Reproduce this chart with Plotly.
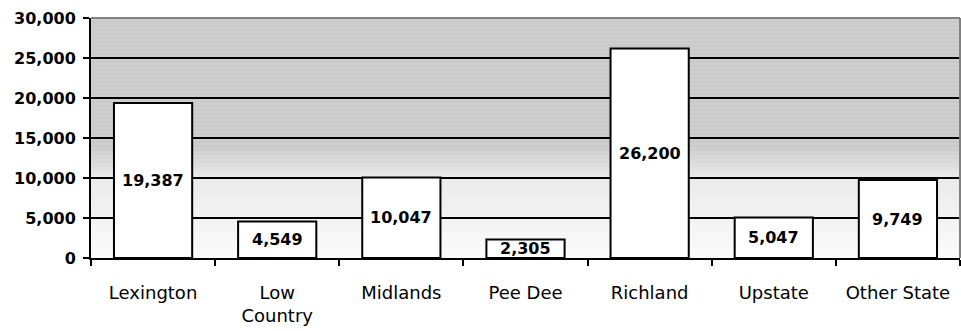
import plotly.graph_objects as go

categories = ["Lexington", "Low<br>Country", "Midlands", "Pee Dee", "Richland", "Upstate", "Other State"]
values = [19387, 4549, 10047, 2305, 26200, 5047, 9749]
y_ticks = [0, 5000, 10000, 15000, 20000, 25000, 30000]
y_tick_labels = ["0", "5,000", "10,000", "15,000", "20,000", "25,000", "30,000"]

FONT = "DejaVu Sans"

fig = go.Figure()
fig.add_trace(go.Bar(
    x=categories, y=values,
    marker=dict(color="white", line=dict(color="black", width=2)),
    hoverinfo="skip",
))

# background gradient (grey at top -> white at bottom)
def shade(v):
    if v >= 14000:
        return 190
    if v >= 10000:
        return 190 + (14000 - v) / 4000 * (228 - 190)
    return 228 + (10000 - v) / 10000 * (251 - 228)

shapes = []
step = 100
for lo in range(0, 30000, step):
    c = int(round(shade(lo + step / 2)))
    shapes.append(dict(type="rect", xref="x domain", yref="y", x0=0, x1=1, y0=lo, y1=lo + step,
                       fillcolor=f"rgb({c},{c},{c})", line=dict(width=0), layer="below"))
shapes.append(dict(type="line", xref="x domain", yref="y domain", x0=0, x1=1, y0=1, y1=1,
                   line=dict(color="#808080", width=2), layer="above"))
shapes.append(dict(type="line", xref="x domain", yref="y domain", x0=1, x1=1, y0=0, y1=1,
                   line=dict(color="#808080", width=2), layer="above"))

annotations = []
for c, v in zip(categories, values):
    annotations.append(dict(x=c, y=v / 2, text=f"{v:,}", showarrow=False,
                            font=dict(family=FONT, size=16, color="black", weight="bold"),
                            xanchor="center", yanchor="middle"))

fig.update_layout(
    width=961, height=331,
    margin=dict(l=91, r=1, t=18, b=73),
    paper_bgcolor="white", plot_bgcolor="white",
    bargap=0.37,
    showlegend=False,
    shapes=shapes,
    annotations=annotations,
    font=dict(family=FONT, color="black"),
)
fig.update_xaxes(
    range=[-0.5, 6.5], tickson="boundaries", ticks="outside", ticklen=6, tickwidth=2, tickcolor="black",
    showline=True, linecolor="black", linewidth=2, showgrid=False,
    tickfont=dict(family=FONT, size=18, color="black"),
    ticklabelstandoff=17,
)
fig.update_yaxes(
    range=[0, 30000], tickvals=y_ticks, ticktext=y_tick_labels,
    ticks="outside", ticklen=6, tickwidth=2, tickcolor="black",
    showline=True, linecolor="black", linewidth=2,
    showgrid=True, gridcolor="black", gridwidth=2, zeroline=False,
    tickfont=dict(family=FONT, size=16, color="black", weight="bold"),
    ticklabelstandoff=4,
)

fig.write_html("out.html")
